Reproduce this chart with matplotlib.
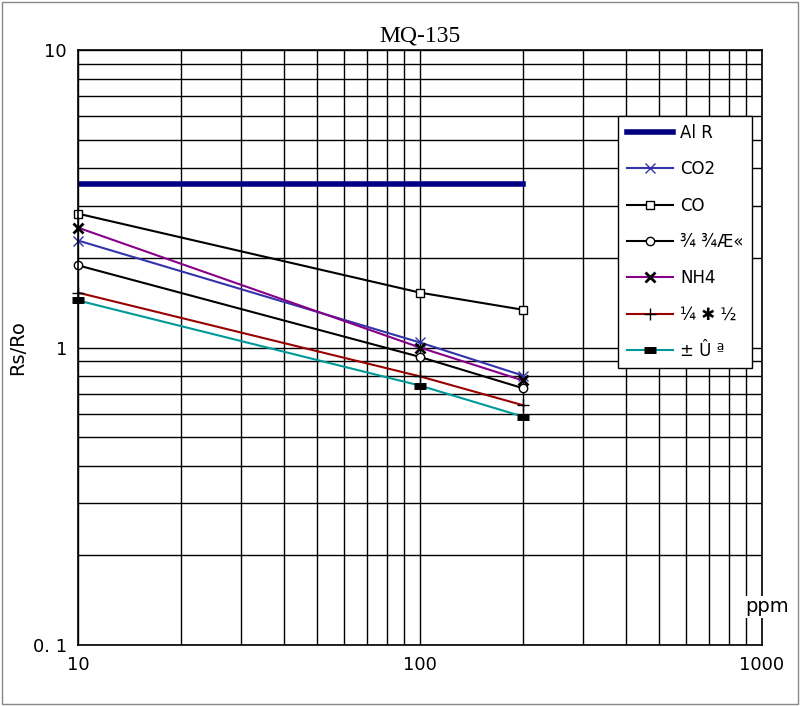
import matplotlib
matplotlib.use("Agg")
import matplotlib.pyplot as plt
from matplotlib.ticker import NullFormatter, LogLocator

ppm = [10, 100, 200]
air_x = [10, 200]
air = [3.56, 3.56]
co2 = [2.29, 1.04, 0.805]
co = [2.82, 1.53, 1.34]
alcohol = [1.89, 0.93, 0.73]
nh4 = [2.53, 1.0, 0.775]
toluene = [1.53, 0.80, 0.64]
acetone = [1.44, 0.745, 0.586]
labels = ["Al R", "CO2", "CO", "¾ ¾Æ«", "NH4", "¼ ✱ ½", "± Û ª"]

fig = plt.figure(figsize=(8, 7.06), dpi=100)
fig.patches.append(plt.Rectangle((0.003, 0.003), 0.994, 0.994, transform=fig.transFigure,
                                 fill=False, ec="#888888", lw=1))
ax = fig.add_axes([0.0975, 0.0864, 0.855, 0.8426])
ax.set_xscale("log"); ax.set_yscale("log")
ax.set_xlim(10, 1000); ax.set_ylim(0.1, 10)
ax.xaxis.set_minor_locator(LogLocator(subs=range(2, 10)))
ax.yaxis.set_minor_locator(LogLocator(subs=range(2, 10)))
ax.xaxis.set_minor_formatter(NullFormatter()); ax.yaxis.set_minor_formatter(NullFormatter())
ax.set_xticks([10, 100, 1000]); ax.set_xticklabels(["10", "100", "1000"])
ax.set_yticks([0.1, 1, 10]); ax.set_yticklabels(["0. 1", "1", "10"])
ax.grid(True, which="both", color="black", lw=1)
ax.tick_params(which="both", length=0, labelsize=13, pad=8)
for s in ax.spines.values(): s.set_linewidth(1.2)

kw = dict(clip_on=False, lw=1.5)
ax.plot(air_x, air, color="#000080", lw=4, label=labels[0])
ax.plot(ppm, co2, color="#3333aa", marker="x", ms=7, mec="#3333aa", label=labels[1], **kw)
ax.plot(ppm, co, color="black", marker="s", ms=6, mfc="white", label=labels[2], **kw)
ax.plot(ppm, alcohol, color="black", marker="o", ms=6, mfc="white", label=labels[3], **kw)
ax.plot(ppm, nh4, color="#880088", marker="x", ms=7, mec="black", mew=2, label=labels[4], **kw)
ax.plot(ppm, toluene, color="#990000", marker="+", ms=8, mec="black", label=labels[5], **kw)
ax.plot(ppm, acetone, color="#009999", marker="_", ms=9, mec="black", mew=5, label=labels[6], **kw)

leg = ax.legend(loc="upper right", bbox_to_anchor=(0.985, 0.89), fancybox=False, edgecolor="black",
                framealpha=1, fontsize=12, labelspacing=1.1, handlelength=2.8, borderpad=0.5,
                handletextpad=0.4, borderaxespad=0)
ax.set_title("MQ-135", fontsize=17, family="Liberation Serif", pad=6)
ax.set_ylabel("Rs/Ro", fontsize=14, labelpad=4)
ax.text(1.04, 0.064, "ppm", transform=ax.transAxes, fontsize=14, ha="right", va="center",
        bbox=dict(fc="white", ec="none", pad=1))
fig.savefig("out.png")
